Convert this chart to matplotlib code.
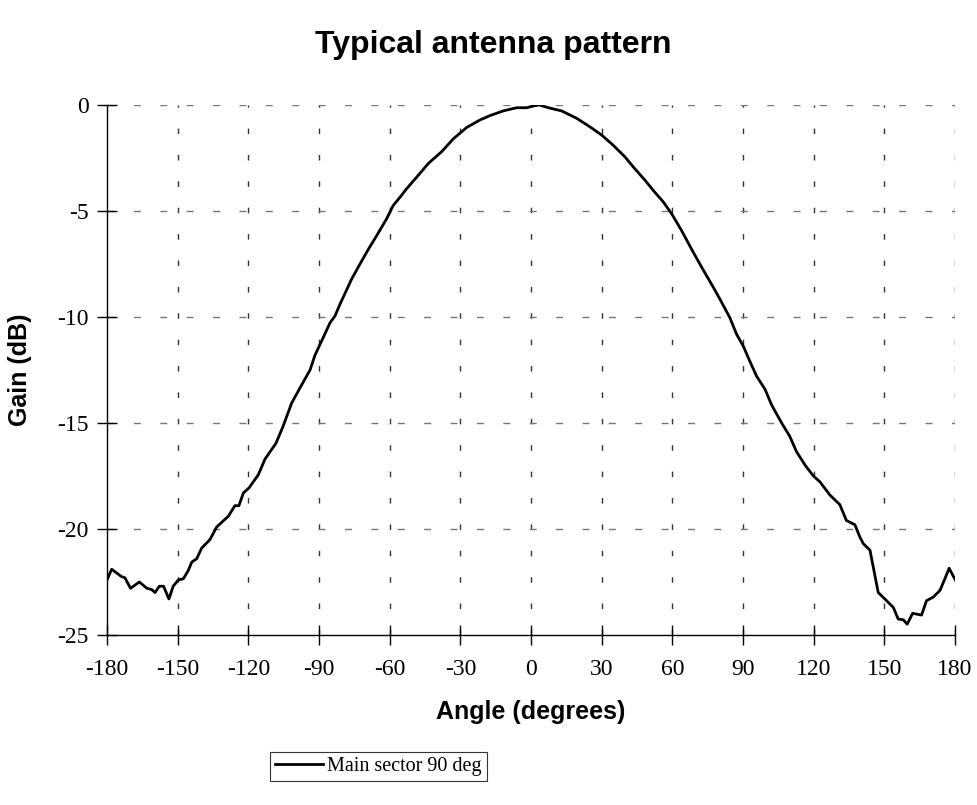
import matplotlib
matplotlib.use("Agg")
import matplotlib.pyplot as plt

plt.rcParams["axes.unicode_minus"] = False

# --- Pattern (angle in degrees, gain in dB) ---
angle = [-180, -178, -173.8, -172.4, -170, -166.3, -163, -161, -159.6, -157.8,
         -156, -153.7, -151.9, -149.7, -147.6, -145.5, -144, -141.9, -139.8,
         -136.3, -133.4, -128.5, -125.7, -124, -122.1, -119.7, -115.8, -112.9,
         -108.3, -105.4, -101.6, -98.1, -93.8, -91.7, -89.6, -87.5, -85.3,
         -83.2, -81.1, -76.1, -72.6, -69, -65.5, -61.3, -58.5, -55.6, -52.8,
         -48.5, -43.6, -37.9, -33, -27.3, -21.7, -17.4, -11.8, -6.1, -1.8,
         1.7, 3.5, 7.4, 13, 19.4, 25, 30, 34.9, 39.9, 43.4, 48.4, 51.9, 56.2,
         59.7, 63.9, 68.5, 73.1, 77.4, 80.2, 84.4, 87.3, 90.1, 92.9, 95.8,
         99.3, 102.1, 106.4, 109.9, 112.7, 116.3, 119.8, 122.6, 126.9, 131.1,
         133.9, 137.5, 139.6, 141.1, 143.9, 147.4, 150.2, 153.8, 155.9, 158,
         159.7, 162, 165.8, 167.9, 170.7, 173.6, 175.7, 177.5, 180]
gain = [-22.4, -21.9, -22.25, -22.3, -22.8, -22.5, -22.8, -22.86, -23.0, -22.7,
        -22.7, -23.3, -22.7, -22.4, -22.35, -21.96, -21.56, -21.4, -20.9,
        -20.5, -19.9, -19.4, -18.9, -18.9, -18.3, -18.06, -17.45, -16.7,
        -15.96, -15.2, -14.06, -13.35, -12.5, -11.8, -11.3, -10.8, -10.27,
        -9.95, -9.4, -8.2, -7.5, -6.8, -6.16, -5.37, -4.74, -4.35, -3.95,
        -3.4, -2.76, -2.2, -1.6, -1.06, -0.71, -0.5, -0.28, -0.13, -0.13,
        -0.03, 0.0, -0.13, -0.28, -0.63, -1.03, -1.42, -1.9, -2.45, -2.92,
        -3.55, -4.03, -4.58, -5.13, -5.92, -6.87, -7.78, -8.6, -9.16, -10.03,
        -10.82, -11.37, -12.09, -12.8, -13.4, -14.14, -15.0, -15.64, -16.35,
        -16.98, -17.49, -17.77, -18.4, -18.85, -19.6, -19.8, -20.38, -20.7,
        -21.0, -23.0, -23.3, -23.7, -24.25, -24.28, -24.49, -23.98, -24.06,
        -23.38, -23.22, -22.9, -22.35, -21.85, -22.38]

x_ticks = list(range(-180, 181, 30))
y_ticks = [0, -5, -10, -15, -20, -25]

fig = plt.figure(figsize=(9.78, 8.05), dpi=100)
ax = fig.add_axes([0.1094, 0.2112, 0.8671, 0.6584])

ax.plot(angle, gain, color="black", lw=2.0, label="Main sector 90 deg")

ax.set_xlim(-180, 180)
ax.set_ylim(-25, 0)
ax.set_xticks(x_ticks)
ax.set_yticks(y_ticks)

# dashed grid, vertical a bit darker than horizontal
for t in x_ticks[1:]:
    ax.axvline(t, color="#333333", lw=1, ls=(0, (4, 15)), zorder=0)
for t in y_ticks[:-1]:
    ax.axhline(t, color="#777777", lw=1, ls=(0, (5, 14)), zorder=0)

for s in ("top", "right"):
    ax.spines[s].set_visible(False)
for s in ("left", "bottom"):
    ax.spines[s].set_linewidth(1.0)

ax.tick_params(direction="inout", length=14, width=1)
ax.tick_params(axis="y", pad=6)
ax.tick_params(axis="x", pad=10)
for lab in ax.get_xticklabels() + ax.get_yticklabels():
    lab.set_family("Liberation Serif")
    lab.set_fontsize(17)

ax.set_xlabel("Angle (degrees)", family="Liberation Sans", fontweight="bold",
              fontsize=18, labelpad=15)
ax.set_ylabel("Gain (dB)", family="Liberation Sans", fontweight="bold",
              fontsize=18)
ax.yaxis.set_label_coords(-0.088, 0.5)
fig.text(0.504, 0.944, "Typical antenna pattern", ha="center", va="center",
         family="Liberation Sans", fontweight="bold", fontsize=23)

leg = fig.legend(loc="upper left", bbox_to_anchor=(0.276, 0.066),
                 borderaxespad=0, fancybox=False, edgecolor="black",
                 handlelength=2.4, handletextpad=0.2, borderpad=0.25,
                 prop={"family": "Liberation Serif", "size": 14.5})
leg.get_frame().set_linewidth(0.8)

fig.savefig("out.png", dpi=100)
